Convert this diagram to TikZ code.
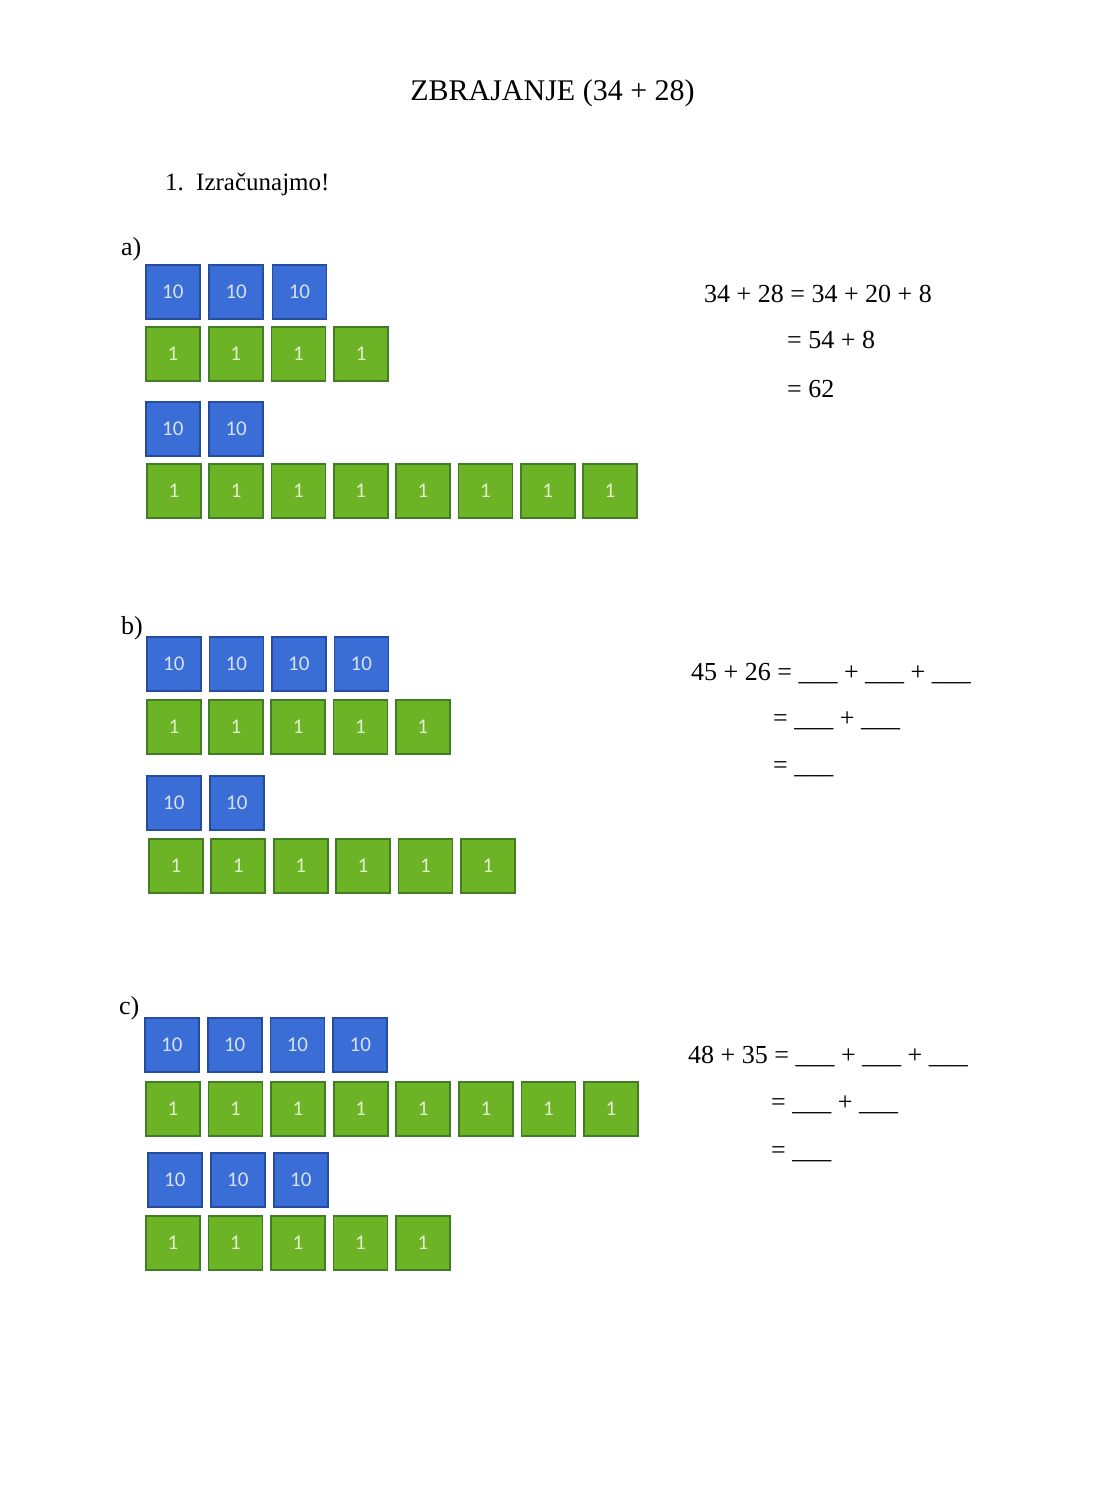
\documentclass[tikz,border=0pt]{standalone}
\usepackage{fontspec}
\setmainfont{Liberation Serif}
\newfontfamily\tilefont{Carlito}
\definecolor{tenfill}{RGB}{58,110,214}
\definecolor{tenline}{RGB}{38,76,160}
\definecolor{tentext}{RGB}{214,226,244}
\definecolor{onefill}{RGB}{108,180,38}
\definecolor{oneline}{RGB}{66,124,36}
\definecolor{onetext}{RGB}{226,240,206}
\newcommand\tilerow[7]{%
  \foreach \k in {1,...,#4}{%
    \node[#5, anchor=north west] (#1\k) at ({#2+(\k-1)*#7},#3) {#6};}}
\begin{document}
\begin{tikzpicture}[x=1pt,y=-1pt,
  tilebase/.style={minimum size=54pt, inner sep=0pt, line width=1.7pt,
    font=\tilefont\fontsize{21}{24}\selectfont},
  tenbox/.style={tilebase, draw=tenline, fill=tenfill, text=tentext},
  onebox/.style={tilebase, draw=oneline, fill=onefill, text=onetext},
  eqtext/.style={anchor=base west, inner sep=0pt, font=\fontsize{26}{30}\selectfont},
  labeltext/.style={anchor=base west, inner sep=0pt, font=\fontsize{26}{30}\selectfont},
]
\useasboundingbox[fill=white] (0,0) rectangle (1096,1502);

\node[anchor=base, inner sep=0pt, font=\fontsize{30}{36}\selectfont] (title) at (552.5,100) {ZBRAJANJE (34 + 28)};
\node[anchor=base west, inner sep=0pt, font=\fontsize{25}{30}\selectfont] (num) at (165,190) {1.};
\node[anchor=base west, inner sep=0pt, font=\fontsize{25}{30}\selectfont] (task) at (196,190) {Izračunajmo!};

% a)
\node[labeltext] (la) at (121,255) {a)};
\tilerow{aT}{145}{264}{3}{tenbox}{10}{63.3}
\tilerow{aU}{145}{326}{4}{onebox}{1}{62.8}
\tilerow{bT}{145}{401}{2}{tenbox}{10}{63.3}
\tilerow{bU}{146}{463}{8}{onebox}{1}{62.3}
\node[eqtext] (ea1) at (704,302) {34 + 28 = 34 + 20 + 8};
\node[eqtext] (ea2) at (787,348) {= 54 + 8};
\node[eqtext] (ea3) at (787,397) {= 62};

% b)
\node[labeltext] (lb) at (121,634) {b)};
\tilerow{cT}{146}{636}{4}{tenbox}{10}{62.5}
\tilerow{cU}{146}{699}{5}{onebox}{1}{62.2}
\tilerow{dT}{146}{775}{2}{tenbox}{10}{63}
\tilerow{dU}{148}{838}{6}{onebox}{1}{62.4}
\node[eqtext] (eb1) at (691,680) {45 + 26 = \_\_\_ + \_\_\_ + \_\_\_};
\node[eqtext] (eb2) at (773,726) {= \_\_\_ + \_\_\_};
\node[eqtext] (eb3) at (773,773) {= \_\_\_};

% c)
\node[labeltext] (lc) at (119,1014) {c)};
\tilerow{eT}{144}{1017}{4}{tenbox}{10}{62.8}
\tilerow{eU}{145}{1081}{8}{onebox}{1}{62.6}
\tilerow{fT}{147}{1152}{3}{tenbox}{10}{63}
\tilerow{fU}{145}{1215}{5}{onebox}{1}{62.5}
\node[eqtext] (ec1) at (688,1063) {48 + 35 = \_\_\_ + \_\_\_ + \_\_\_};
\node[eqtext] (ec2) at (771,1110) {= \_\_\_ + \_\_\_};
\node[eqtext] (ec3) at (771,1158) {= \_\_\_};
\end{tikzpicture}
\end{document}
